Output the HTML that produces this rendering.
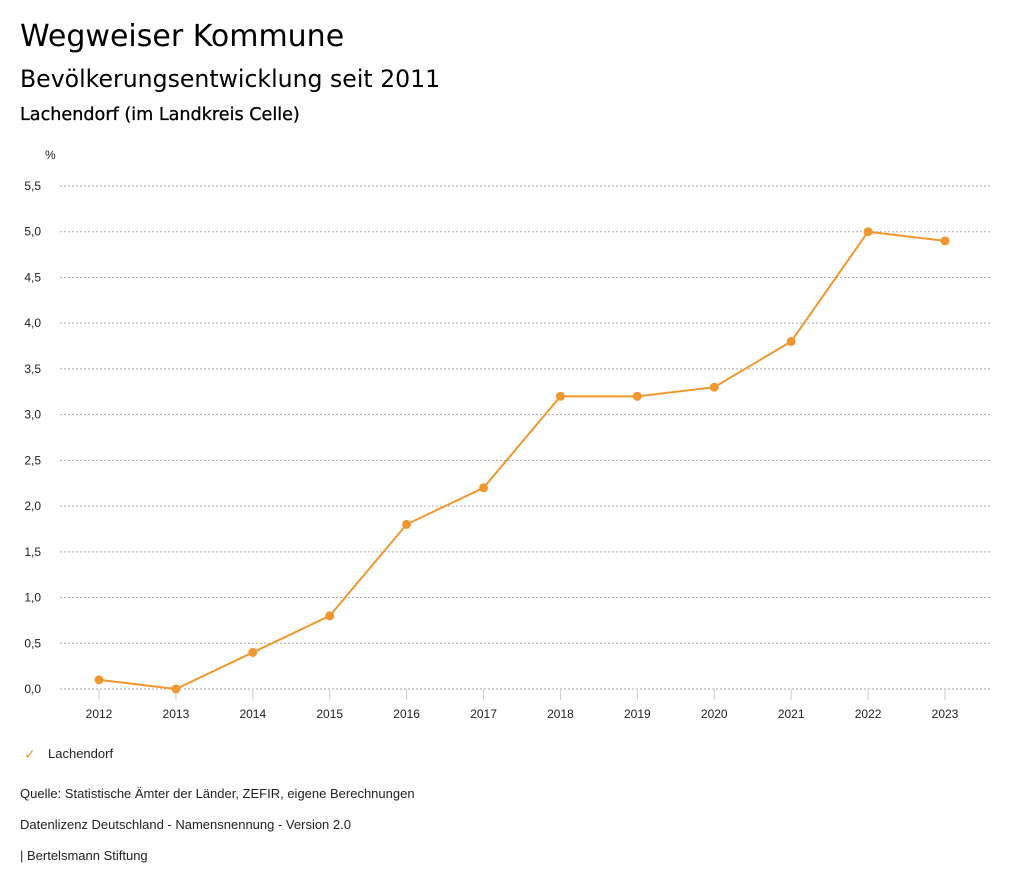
<!DOCTYPE html>
<html><head><meta charset="utf-8"><style>
body{margin:0;background:#fff;width:1024px;height:888px;overflow:hidden;font-family:"Liberation Sans","DejaVu Sans",sans-serif;color:#000}
.t{position:absolute;left:20px;white-space:nowrap}
.d{font-family:"DejaVu Sans","Liberation Sans",sans-serif}
svg{position:absolute;left:0;top:0}
</style></head><body>
<div class="t d" style="top:19px;font-size:30px">Wegweiser Kommune</div>
<div class="t d" style="top:65px;font-size:23.6px">Bevölkerungsentwicklung seit 2011</div>
<div class="t d" style="top:105px;font-size:17.6px;-webkit-text-stroke:0.3px #000">Lachendorf (im Landkreis Celle)</div>
<svg id="c" width="1024" height="888"></svg>
<div class="t" style="top:746px;left:24px;font-size:13px;color:#222"><span style="color:#f0982f;font-size:14px">✓</span><span style="position:absolute;left:24px">Lachendorf</span></div>
<div class="t" style="top:786px;font-size:13px;color:#222">Quelle: Statistische Ämter der Länder, ZEFIR, eigene Berechnungen</div>
<div class="t" style="top:817px;font-size:13px;color:#222">Datenlizenz Deutschland - Namensnennung - Version 2.0</div>
<div class="t" style="top:848px;font-size:13px;color:#222">| Bertelsmann Stiftung</div>
<script>
const years=["2012","2013","2014","2015","2016","2017","2018","2019","2020","2021","2022","2023"];
const values=[0.1,0.0,0.4,0.8,1.8,2.2,3.2,3.2,3.3,3.8,5.0,4.9];
const yTicks=[0,0.5,1,1.5,2,2.5,3,3.5,4,4.5,5,5.5];
const NS="http://www.w3.org/2000/svg";
const svg=document.getElementById('c');
const x=i=>99+i*(945-99)/(years.length-1);
const y=v=>689-v*(689-186)/5.5;
function mk(t,a){const e=document.createElementNS(NS,t);for(const k in a)e.setAttribute(k,a[k]);svg.appendChild(e);return e;}
const u=mk('text',{x:45,y:159,'font-size':12,fill:'#222'});u.textContent='%';


yTicks.forEach(v=>{
 const l=mk('line',{x1:60,x2:990,y1:y(v),y2:y(v),stroke:'#aaa','stroke-dasharray':'2,2','stroke-width':1});
 
 
 const t=mk('text',{x:41,y:y(v)+4,'font-size':12,fill:'#222','text-anchor':'end'});
 t.textContent=v.toFixed(1).replace('.',',');
 
 
});
years.forEach((yr,i)=>{
 const l=mk('line',{x1:x(i),x2:x(i),y1:689,y2:700,stroke:'#ccc'});
 
 
 const t=mk('text',{x:x(i),y:718,'font-size':12,fill:'#222','text-anchor':'middle'});
 t.textContent=yr;
 
 
});
const p=mk('polyline',{points:values.map((v,i)=>x(i)+','+y(v)).join(' '),fill:'none',stroke:'#f0982f','stroke-width':2});


values.forEach((v,i)=>{
 const c=mk('circle',{cx:x(i),cy:y(v),r:4.5,fill:'#f0982f'});
 
 
});
</script>
</body></html>
